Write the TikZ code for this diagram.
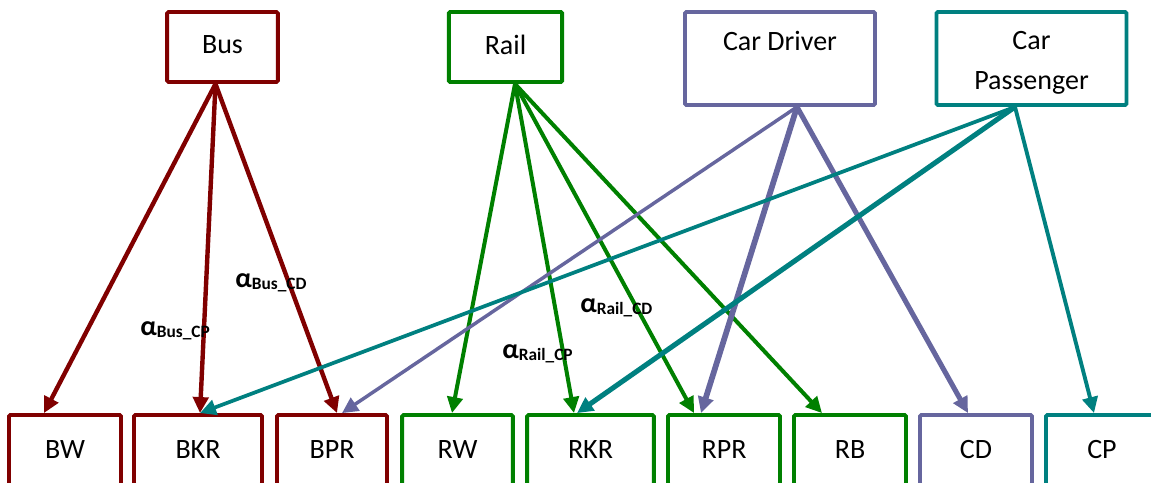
\documentclass[tikz,border=0pt]{standalone}
\usepackage{fontspec}
\setmainfont{Carlito}
\usetikzlibrary{arrows.meta,calc}
\definecolor{busred}{RGB}{128,0,0}
\definecolor{railgreen}{RGB}{0,128,0}
\definecolor{cdpurple}{RGB}{102,102,158}
\definecolor{cpteal}{RGB}{0,128,128}

\begin{document}
\begin{tikzpicture}[x=0.75pt,y=-0.75pt]
\tikzset{boite/.style={draw, line width=2.9pt, rounded corners=1pt, fill=white,
    minimum width=84pt, minimum height=52.5pt, align=center,
    font=\fontsize{21}{30}\selectfont},
  grande/.style={boite, minimum width=142.5pt, minimum height=69.75pt},
  haut/.style={anchor=north, inner sep=0pt, yshift=-15.5pt, align=center,
    font=\fontsize{21}{30}\selectfont},
  fleche/.style={-{Triangle[length=12pt,width=11.5pt]}, line width=#1},
  fleche/.default=3pt,
  etiq/.style={inner sep=0pt, anchor=base west, font=\bfseries\fontsize{21}{21}\selectfont}}
\useasboundingbox (0,0) rectangle (1151,482);
\clip (0,0) rectangle (1151,482);
\node[boite, draw=busred, minimum width=83pt] (Bus) at (222.5,47) {Bus\vphantom{g}};
\node[boite, draw=railgreen, minimum width=85pt] (Rail) at (505.5,47) {Rail\vphantom{g}};
\node[grande, draw=cdpurple, label={[haut]north:Car Driver}] (CarDriver) at (780,58.5) {};
\node[grande, draw=cpteal, label={[haut]north:Car\\Passenger}] (CarPass) at (1031.5,58.5) {};
\node[boite, draw=busred] (BW) at (65,450) {BW};
\node[boite, draw=busred, minimum width=96pt] (BKR) at (198,450) {BKR};
\node[boite, draw=busred, minimum width=82.5pt] (BPR) at (332,450) {BPR};
\node[boite, draw=railgreen, minimum width=83pt] (RW) at (457.5,450) {RW};
\node[boite, draw=railgreen, minimum width=95pt] (RKR) at (590.5,450) {RKR};
\node[boite, draw=railgreen] (RPR) at (724,450) {RPR};
\node[boite, draw=railgreen] (RB) at (850,450) {RB};
\node[boite, draw=cdpurple] (CD) at (976,450) {CD};
\node[boite, draw=cpteal] (CP) at (1102,450) {CP};
\coordinate (busout) at ($(Bus.south)+(-7,0)$);
\coordinate (railout) at ($(Rail.south)+(9.5,0)$);
\coordinate (cdout) at ($(CarDriver.south)+(17,0)$);
\coordinate (cpout) at ($(CarPass.south)+(-16.5,0)$);
\draw[fleche=3.3pt, busred] (busout) -- ($(BW.north)+(-21,0)$);
\draw[fleche=3.3pt, busred] (busout) -- ($(BKR.north)+(2,0)$);
\draw[fleche=3.3pt, busred] (busout) -- ($(BPR.north)+(5,0)$);
\draw[fleche=3pt, railgreen] (railout) -- ($(RW.north)+(-5.5,0)$);
\draw[fleche=3pt, railgreen] (railout) -- ($(RKR.north)+(-16.5,0)$);
\draw[fleche=3pt, railgreen] (railout) -- ($(RPR.north)+(-30,0)$);
\draw[fleche=3pt, railgreen] (railout) -- ($(RB.north)+(-28,0)$);
\draw[fleche=2.6pt, cdpurple] (cdout) -- ($(BPR.north)+(10,0)$);
\draw[fleche=4.3pt, cdpurple] (cdout) -- ($(RPR.north)+(-23,0)$);
\draw[fleche=3.8pt, cdpurple] (cdout) -- ($(CD.north)+(-8,0)$);
\draw[fleche=2.8pt, cpteal] (cpout) -- ($(BKR.north)+(2,0)$);
\draw[fleche=3.8pt, cpteal] (cpout) -- ($(RKR.north)+(-13.5,0)$);
\draw[fleche=2.9pt, cpteal] (cpout) -- ($(CP.north)+(-8,0)$);
\node[etiq] (aBusCD) at (235,287) {α\raisebox{-2pt}{\fontsize{13}{13}\selectfont Bus\_CD}};
\node[etiq] (aBusCP) at (140,335) {α\raisebox{-2pt}{\fontsize{13}{13}\selectfont Bus\_CP}};
\node[etiq] (aRailCD) at (580,312) {α\raisebox{-2pt}{\fontsize{13}{13}\selectfont Rail\_CD}};
\node[etiq] (aRailCP) at (502,358) {α\raisebox{-2pt}{\fontsize{13}{13}\selectfont Rail\_CP}};
\end{tikzpicture}
\end{document}
